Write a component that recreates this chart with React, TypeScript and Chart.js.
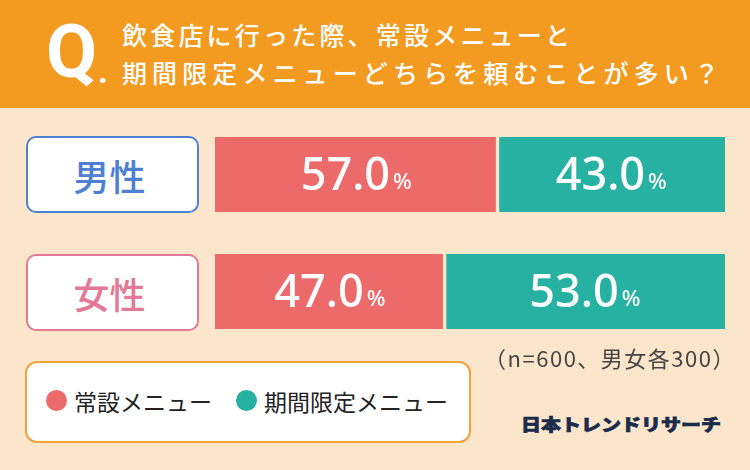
import { useEffect, useRef } from "react";
import { Chart, registerables } from "chart.js";

Chart.register(...registerables);

const categories = ["男性", "女性"];
const seriesNames = ["常設メニュー", "期間限定メニュー"];
const regularMenu = [57.0, 47.0];
const limitedMenu = [43.0, 53.0];
const seriesColors = ["#EC6A6A", "#27B1A2"];
const categoryColors = ["#4D80D2", "#E27997"];
const titleLines = ["飲食店に行った際、常設メニューと", "期間限定メニューどちらを頼むことが多い？"];
const titleSpacing = [3.2, 5.1];
const noteText = "（n=600、男女各300）";
const logoText = "日本トレンドリサーチ";

const BG = "#FCE6CB";
const ORANGE = "#F39B20";
const JP = '"Noto Sans CJK JP", "Noto Sans", sans-serif';

const valueLabels = {
  id: "valueLabels",
  afterDatasetsDraw(chart: any) {
    const { ctx, chartArea } = chart;
    const big = '500 45px "Noto Sans", sans-serif';
    const small = '500 22px "Noto Sans", sans-serif';
    chart.data.datasets.forEach((ds: any, di: number) => {
      const meta = chart.getDatasetMeta(di);
      meta.data.forEach((el: any, i: number) => {
        const v = ds.data[i] as number;
        const start = Math.max(Math.min(el.base, el.x), chartArea.left);
        const end = Math.min(Math.max(el.base, el.x), chartArea.right);
        const cx = (start + end) / 2;
        const num = v.toFixed(1);
        ctx.save();
        ctx.font = big;
        const w1 = ctx.measureText(num).width;
        ctx.font = small;
        const w2 = ctx.measureText("%").width;
        const gap = 3;
        const x0 = cx - (w1 + gap + w2) / 2;
        const baseY = el.y + 15;
        ctx.fillStyle = "#ffffff";
        ctx.textAlign = "left";
        ctx.textBaseline = "alphabetic";
        ctx.font = big;
        ctx.fillText(num, x0, baseY);
        ctx.font = small;
        ctx.fillText("%", x0 + w1 + gap, baseY - 1);
        ctx.restore();
      });
    });
  },
};

export default function App() {
  const canvasRef = useRef<HTMLCanvasElement | null>(null);

  useEffect(() => {
    document.body.style.margin = "0";
    if (!canvasRef.current) return;
    const chart = new Chart(canvasRef.current, {
      type: "bar",
      data: {
        labels: categories,
        datasets: [
          {
            label: seriesNames[0],
            data: regularMenu,
            backgroundColor: seriesColors[0],
            borderColor: BG,
            borderWidth: { left: 0, right: 2, top: 0, bottom: 0 },
            borderSkipped: false,
            barThickness: 75,
          },
          {
            label: seriesNames[1],
            data: limitedMenu,
            backgroundColor: seriesColors[1],
            borderColor: BG,
            borderWidth: { left: 2, right: 0, top: 0, bottom: 0 },
            borderSkipped: false,
            barThickness: 75,
          },
        ],
      },
      options: {
        indexAxis: "y",
        responsive: true,
        maintainAspectRatio: false,
        animation: false,
        layout: { padding: 0 },
        plugins: { legend: { display: false }, tooltip: { enabled: false } },
        scales: {
          x: { stacked: true, display: false, min: 3.6, max: 100 },
          y: { stacked: true, display: false },
        },
      },
      plugins: [valueLabels],
    } as any);
    return () => chart.destroy();
  }, []);

  const rowTops = [136, 254];

  return (
    <div
      style={{
        position: "relative",
        width: 750,
        height: 470,
        background: BG,
        overflow: "hidden",
        fontFamily: JP,
      }}
    >
      {/* header */}
      <div style={{ position: "absolute", left: 0, top: 0, width: 750, height: 108, background: ORANGE }} />
      <div
        style={{
          position: "absolute",
          left: 46,
          top: 15,
          height: 74,
          lineHeight: "74px",
          fontFamily: "Roboto, sans-serif",
          fontWeight: 700,
          fontSize: 74,
          color: "#fff",
          whiteSpace: "nowrap",
        }}
      >
        Q
        <span style={{ fontSize: 34, marginLeft: 1, position: "relative", top: 6 }}>.</span>
      </div>
      <div
        style={{
          position: "absolute",
          left: 122,
          top: 16,
          fontSize: 25,
          lineHeight: "37.5px",
          color: "#fff",
          whiteSpace: "nowrap",
          fontWeight: 500,
        }}
      >
        {titleLines.map((t, i) => (
          <div key={i} style={{ letterSpacing: `${titleSpacing[i]}px` }}>
            {t}
          </div>
        ))}
      </div>

      {/* category boxes */}
      {categories.map((c, i) => (
        <div
          key={c}
          style={{
            position: "absolute",
            left: 26,
            top: rowTops[i],
            width: 173,
            height: 77,
            boxSizing: "border-box",
            border: `2.5px solid ${categoryColors[i]}`,
            borderRadius: 10,
            background: "#fff",
            color: categoryColors[i],
            fontSize: 36,
            fontWeight: 500,
            display: "flex",
            alignItems: "center",
            justifyContent: "center",
            paddingRight: 6,
          }}
        >
          {c}
        </div>
      ))}

      {/* chart */}
      <div style={{ position: "absolute", left: 215, top: 116, width: 510, height: 234 }}>
        <canvas ref={canvasRef} />
      </div>

      {/* note */}
      <div
        style={{
          position: "absolute",
          right: 14,
          top: 343,
          fontSize: 22,
          lineHeight: "28px",
          letterSpacing: "1.5px",
          color: "#444",
          whiteSpace: "nowrap",
        }}
      >
        {noteText}
      </div>

      {/* legend */}
      <div
        style={{
          position: "absolute",
          left: 25,
          top: 361,
          width: 446,
          height: 82,
          boxSizing: "border-box",
          border: "2px solid #F0A23A",
          borderRadius: 12,
          background: "#fff",
          display: "flex",
          alignItems: "center",
          paddingLeft: 19,
          paddingBottom: 3,
        }}
      >
        {seriesNames.map((s, i) => (
          <div key={s} style={{ display: "flex", alignItems: "center", marginRight: 24 }}>
            <div
              style={{
                width: 21,
                height: 21,
                borderRadius: "50%",
                background: seriesColors[i],
                marginRight: 7,
              }}
            />
            <span style={{ fontSize: 23, color: "#222", whiteSpace: "nowrap" }}>{s}</span>
          </div>
        ))}
      </div>

      {/* logo */}
      <div
        style={{
          position: "absolute",
          left: 521,
          top: 410,
          fontSize: 20,
          lineHeight: "28px",
          fontWeight: 900,
          color: "#1B2B4B",
          whiteSpace: "nowrap",
          transform: "scaleY(0.85)",
          transformOrigin: "left center",
          WebkitTextStroke: "0.8px #1B2B4B",
        }}
      >
        {logoText}
      </div>
    </div>
  );
}
